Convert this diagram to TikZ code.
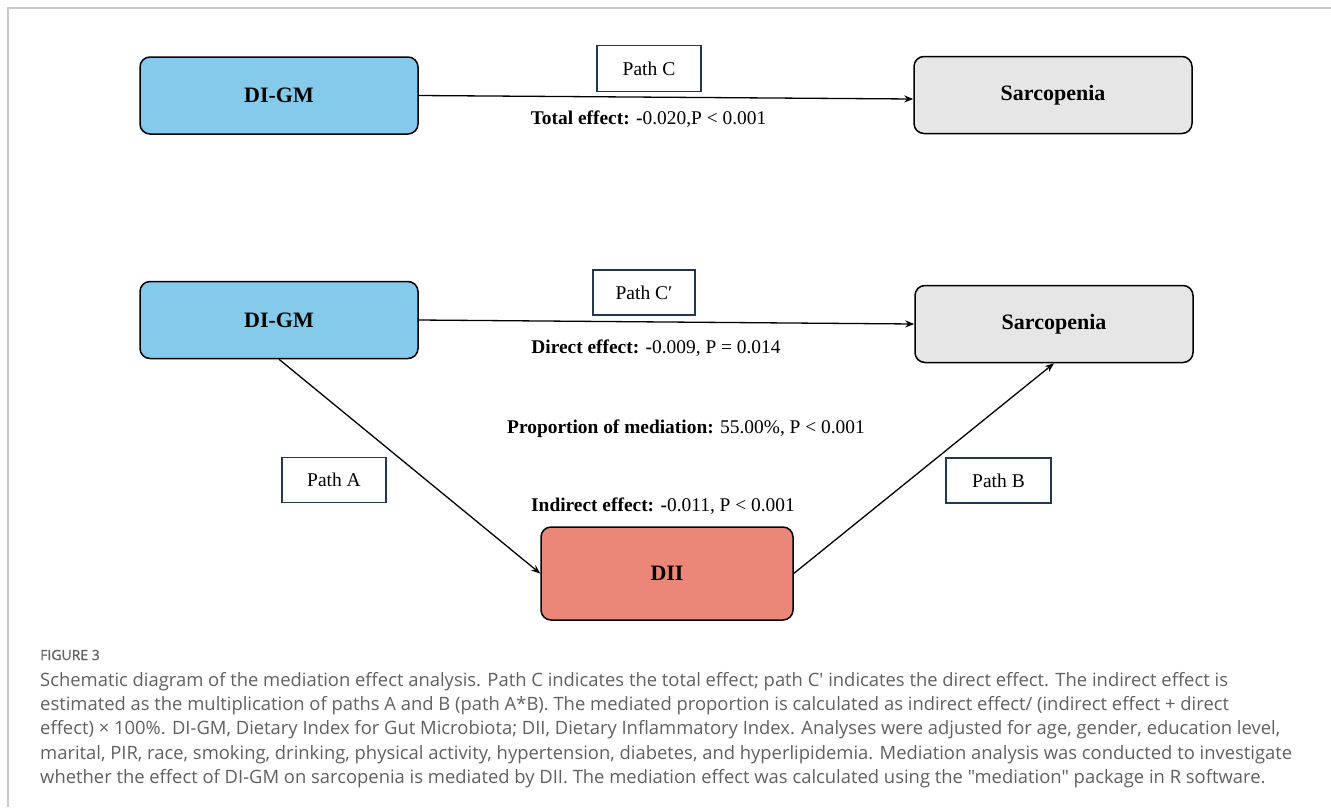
\documentclass[tikz,border=0pt]{standalone}
\usepackage{fontspec}
\setmainfont{Liberation Serif}
\newfontfamily\capfont{Open Sans}
\newfontfamily\figfont[FakeBold=0.8]{Open Sans}
\usetikzlibrary{arrows.meta}
\definecolor{digmc}{RGB}{132,203,235}
\definecolor{sarcc}{RGB}{230,230,230}
\definecolor{diic}{RGB}{235,135,120}
\definecolor{pathc}{RGB}{31,56,86}
\definecolor{capgrey}{RGB}{96,96,98}
\definecolor{framec}{RGB}{200,200,200}
\begin{document}
\begin{tikzpicture}[x=1pt,y=-1pt,
  varbox/.style={draw=black, line width=1.5pt, rounded corners=10pt, minimum width=278pt, minimum height=77pt, font=\fontsize{22}{26}\selectfont\bfseries, inner sep=0pt},
  pathbox/.style={draw=pathc, line width=1.4pt, fill=white, minimum width=104pt, minimum height=46pt, font=\fontsize{19.5}{22}\selectfont, inner sep=0pt},
  effect/.style={font=\fontsize{19.4}{22}\selectfont, inner sep=0pt},
  conn/.style={draw=black, line width=1.3pt, -{Stealth[length=9pt,width=7pt]}},
  capline/.style={anchor=base west, inner sep=0pt, font=\capfont\fontsize{18.4}{22}\selectfont, text=capgrey}]
\useasboundingbox (0,0) rectangle (1331,807);
\draw[framec, line width=2pt] (8,807) -- (8,8) -- (1331,8);

% top panel
\node[varbox, fill=digmc] (d1) at (279,95.5) {DI-GM};
\node[varbox, fill=sarcc] (s1) at (1053,95) {Sarcopenia};
\draw[conn] (d1.east) -- ([yshift=-4pt]s1.west);
\node[pathbox] (pc) at (649,68.5) {Path C};
\node[effect] (te) at (648.5,119) {\textbf{Total effect: -}0.020,P < 0.001};

% bottom panel
\node[varbox, fill=digmc] (d2) at (279,320) {DI-GM};
\node[varbox, fill=sarcc] (s2) at (1054,324) {Sarcopenia};
\node[varbox, fill=diic, minimum width=252pt, minimum height=93pt] (dii) at (667,573.5) {DII};
\draw[conn] (d2.east) -- (s2.west);
\draw[conn] (d2.south) -- (dii.west);
\draw[conn] (dii.east) -- (s2.south);
\node[pathbox, minimum width=102pt, minimum height=45pt] (pcp) at (644,292.5) {Path C′};
\node[pathbox, minimum height=45pt] (pa) at (334,480) {Path A};
\node[pathbox, minimum width=105pt, minimum height=45pt] (pb) at (998.5,480.5) {Path B};
\node[effect] (de) at (656,348) {\textbf{Direct effect: -}0.009, P = 0.014};
\node[effect] (pm) at (686,429) {\textbf{Proportion of mediation:} 55.00\%, P < 0.001};
\node[effect] (ie) at (663,506) {\textbf{Indirect effect: -}0.011, P < 0.001};

% caption
\node[capline, font=\figfont\fontsize{14}{16}\selectfont] (fig) at (40,660) {FIGURE 3};
\node[capline] (c1) at (40,686) {Schematic diagram of the mediation effect analysis. Path C indicates the total effect; path C′ indicates the direct effect. The indirect effect is};
\node[capline] (c2) at (40,710) {estimated as the multiplication of paths A and B (path A*B). The mediated proportion is calculated as indirect effect/ (indirect effect + direct};
\node[capline] (c3) at (40,734.5) {effect) × 100\%. DI-GM, Dietary Index for Gut Microbiota; DII, Dietary Inflammatory Index. Analyses were adjusted for age, gender, education level,};
\node[capline] (c4) at (40,759) {marital, PIR, race, smoking, drinking, physical activity, hypertension, diabetes, and hyperlipidemia. Mediation analysis was conducted to investigate};
\node[capline] (c5) at (40,783) {whether the effect of DI-GM on sarcopenia is mediated by DII. The mediation effect was calculated using the "mediation" package in R software.};
\end{tikzpicture}
\end{document}
